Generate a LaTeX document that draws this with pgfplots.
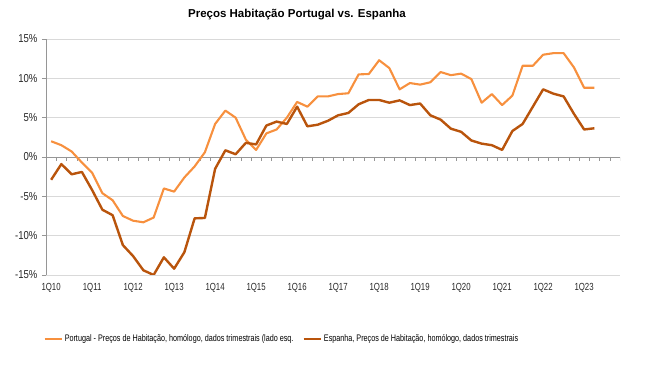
\documentclass[border=0pt]{standalone}
\usepackage{fontspec}
\setmainfont{Liberation Sans}
\newfontfamily\narrow{Liberation Sans}[FakeStretch=0.76]
\newfontfamily\narrowb{Liberation Sans}[FakeStretch=0.83]
\usepackage{pgfplots}
\usepackage{pgfplotstable}
\pgfplotsset{compat=1.18}
\definecolor{ptc}{RGB}{247,144,62}
\definecolor{esc}{RGB}{185,84,12}
\definecolor{axc}{RGB}{150,150,150}
\definecolor{gridc}{RGB}{217,217,217}
\pgfplotstableread{
i pt es
0 2.0 -2.9
1 1.5 -0.9
2 0.7 -2.2
3 -0.7 -1.9
4 -2.0 -4.2
5 -4.6 -6.7
6 -5.5 -7.4
7 -7.5 -11.2
8 -8.1 -12.6
9 -8.3 -14.4
10 -7.7 -15.0
11 -4.0 -12.75
12 -4.4 -14.2
13 -2.6 -12.1
14 -1.2 -7.8
15 0.6 -7.75
16 4.2 -1.5
17 5.9 0.85
18 5.0 0.35
19 2.2 1.8
20 0.9 1.6
21 3.0 4.0
22 3.5 4.5
23 5.0 4.2
24 7.0 6.4
25 6.4 3.9
26 7.7 4.1
27 7.7 4.6
28 8.0 5.3
29 8.1 5.6
30 10.5 6.7
31 10.55 7.25
32 12.3 7.25
33 11.3 6.9
34 8.6 7.2
35 9.4 6.6
36 9.2 6.8
37 9.5 5.3
38 10.8 4.75
39 10.4 3.6
40 10.6 3.2
41 9.9 2.1
42 6.9 1.7
43 8.0 1.5
44 6.6 0.9
45 7.8 3.3
46 11.6 4.2
47 11.6 6.4
48 13.0 8.6
49 13.2 8.05
50 13.2 7.7
51 11.4 5.5
52 8.8 3.5
53 8.8 3.65
}\data
\begin{document}
\begin{tikzpicture}[x=1pt,y=1pt]
\path[use as bounding box] (0,0) rectangle (651,375);
\node[font=\bfseries\fontsize{11.5}{13}\selectfont] at (297,360) {Preços Habitação Portugal vs. Espanha};
\begin{axis}[
  at={(46pt,100pt)}, anchor=south west, scale only axis,
  width=574pt, height=236pt,
  xmin=-0.5, xmax=55.5, ymin=-15, ymax=15,
  axis y line*=left, axis x line*=bottom,
  x axis line style={draw=none},
  y axis line style={draw=axc, line width=0.8pt},
  xtick={0,4,...,52},
  xticklabels={1Q10,1Q11,1Q12,1Q13,1Q14,1Q15,1Q16,1Q17,1Q18,1Q19,1Q20,1Q21,1Q22,1Q23},
  x tick style={draw=none},
  ytick={-15,-10,...,15},
  yticklabels={-15\%,-10\%,-5\%,0\%,5\%,10\%,15\%},
  y tick style={draw=axc, line width=0.6pt},
  tick align=outside, major tick length=4pt,
  ymajorgrids, grid style={draw=gridc, line width=0.8pt},
  xticklabel style={font=\narrow\fontsize{10.3}{11}\selectfont, text=black!85, yshift=-1pt},
  yticklabel style={font=\narrowb\fontsize{11.5}{12}\selectfont, text=black!85, xshift=-1pt},
  legend style={at={(0.411,-0.27)}, anchor=center, draw=none, fill=none,
    font=\narrow\fontsize{9.5}{11}\selectfont, legend columns=2,
    /tikz/every even column/.append style={column sep=7pt}},
  legend cell align=left,
]
\draw[axc, line width=0.8pt] (axis cs:-0.5,0) -- (axis cs:55.5,0);
\pgfplotsinvokeforeach{-0.5,0.5,...,55.5}{\draw[axc, line width=0.5pt] (axis cs:#1,0) -- ++(0pt,-4pt);}
\addplot[ptc, line width=2.1pt, line join=round] table[x=i, y=pt] {\data};
\addlegendentry{Portugal - Preços de Habitação, homólogo, dados trimestrais (lado esq.}
\addplot[esc, line width=2.4pt, line join=round] table[x=i, y=es] {\data};
\addlegendentry{Espanha, Preços de Habitação, homólogo, dados trimestrais}
\end{axis}
\end{tikzpicture}
\end{document}
